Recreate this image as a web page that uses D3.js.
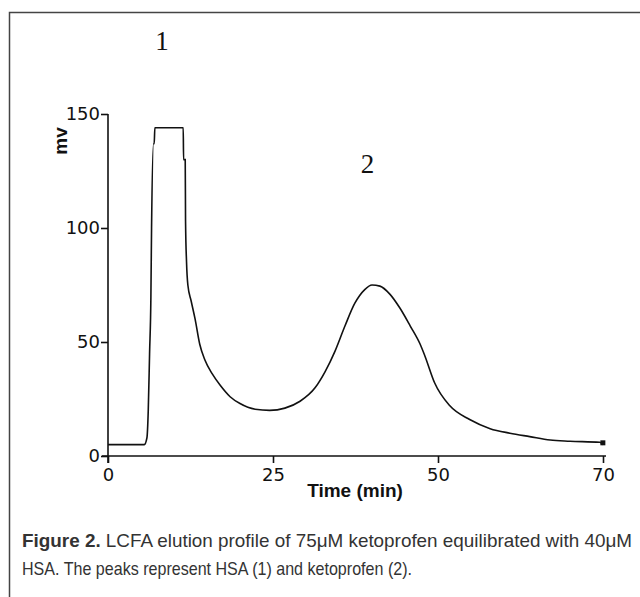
<!DOCTYPE html>
<html>
<head>
<meta charset="utf-8">
<script src="https://cdn.jsdelivr.net/npm/d3@7"></script>
<style>
  body { margin: 0; background: #fff; }
</style>
</head>
<body>
<div id="chart"></div>
<script>
// Elution profile: time (min) and signal (mV)
var times = [0, 2, 4, 5.5, 5.9, 6.1, 6.3, 6.5, 6.6, 6.9, 7.0, 7.1, 11.4, 11.45, 11.7, 11.75, 11.9, 12.1, 12.6,
             13.2, 13.9, 14.7, 15.8, 17.0, 18.5, 20.0, 22.3, 24.5, 26.8, 29.1, 31.4, 32.9, 34.4, 35.9, 37.4,
             38.9, 40.0, 41.2, 42.7, 44.2, 45.8, 47.3, 48.0, 49.5, 51.8, 54.8, 57.9, 60.9, 63.9, 67.0, 70.0, 74.5, 75.0];
var signal = [5, 5, 5, 5, 8, 20, 45, 70, 100, 137, 137, 144, 144, 130, 130, 103, 85, 75, 68,
              60, 49, 42, 36, 31, 26, 23, 20.5, 20, 21, 24, 30, 37, 46, 57, 67,
              73, 75, 74.5, 71, 65, 57, 49, 44, 32, 22, 16, 12, 10, 8.5, 7, 6.5, 6, 5];

var xTicks = [0, 25, 50, 75];
var xTickLabels = ["0", "25", "50", "70"];
var yTicks = [0, 50, 100, 150];

var peakLabels = [
  {text: "1", t: 8.2, v: 178},
  {text: "2", t: 39.3, v: 124}
];

var data = times.map(function(t, i) { return {t: t, v: signal[i]}; });

var W = 640, H = 597;
var svg = d3.select("#chart").append("svg")
    .attr("width", W)
    .attr("height", H);

// frame (only left and top edges show in the crop)
svg.append("path")
    .attr("d", "M9.5,597 L9.5,12.5 L640,12.5")
    .attr("fill", "none")
    .attr("stroke", "#444")
    .attr("stroke-width", 1.5);

var x = d3.scaleLinear().domain([0, 75]).range([108, 603]);
var y = d3.scaleLinear().domain([0, 150]).range([456, 114]);

// x axis
var xAxis = d3.axisBottom(x)
    .tickValues(xTicks)
    .tickSize(7)
    .tickFormat(function(d, i) { return xTickLabels[i]; });

var gx = svg.append("g")
    .attr("transform", "translate(0," + y(0) + ")")
    .call(xAxis);
gx.select(".domain").attr("d", "M" + (x(0) - 6) + ",0H" + (x(75) + 3));

// y axis
var yAxis = d3.axisLeft(y).tickValues(yTicks).tickSize(7);
var gy = svg.append("g")
    .attr("transform", "translate(" + x(0) + ",0)")
    .call(yAxis);
gy.select(".domain").attr("d", "M0," + (y(0) + 7) + "V" + y(150));

svg.selectAll(".domain, .tick line")
    .attr("stroke", "#111")
    .attr("stroke-width", 1.6);

svg.selectAll(".tick text")
    .attr("font-family", "DejaVu Sans, sans-serif")
    .attr("font-size", 18)
    .attr("fill", "#111");
gx.selectAll(".tick text").attr("dy", "0.85em");
gy.selectAll(".tick text").attr("x", -8);

// the trace
var line = d3.line()
    .x(function(d) { return x(d.t); })
    .y(function(d) { return y(d.v); })
    .curve(d3.curveMonotoneX);

svg.append("path")
    .datum(data)
    .attr("fill", "none")
    .attr("stroke", "#111")
    .attr("stroke-width", 1.6)
    .attr("d", line);

// small end mark of the trace
svg.append("rect")
    .attr("x", x(74.6))
    .attr("y", y(6) - 2)
    .attr("width", 5)
    .attr("height", 5)
    .attr("fill", "#111");

// peak numbers
svg.selectAll(".peak")
    .data(peakLabels)
    .enter().append("text")
    .attr("class", "peak")
    .attr("x", function(d) { return x(d.t); })
    .attr("y", function(d) { return y(d.v); })
    .attr("text-anchor", "middle")
    .attr("font-family", "Liberation Serif, serif")
    .attr("font-size", 27)
    .attr("fill", "#111")
    .text(function(d) { return d.text; });

// axis titles
svg.append("text")
    .attr("transform", "translate(67,141) rotate(-90)")
    .attr("text-anchor", "middle")
    .attr("font-family", "Liberation Sans, Arial, sans-serif")
    .attr("font-weight", "bold")
    .attr("font-size", 19)
    .attr("fill", "#111")
    .text("mv");

svg.append("text")
    .attr("x", 355)
    .attr("y", 497)
    .attr("text-anchor", "middle")
    .attr("font-family", "Liberation Sans, Arial, sans-serif")
    .attr("font-weight", "bold")
    .attr("font-size", 19)
    .attr("fill", "#111")
    .text("Time (min)");

// caption (condensed face in the print, squeezed to fit)
var cap = svg.append("g")
    .attr("font-family", "Liberation Sans, sans-serif")
    .attr("font-size", 19)
    .attr("fill", "#333");

var l1 = cap.append("text").attr("x", 22).attr("y", 547)
    .attr("textLength", 610)
    .attr("lengthAdjust", "spacingAndGlyphs");
l1.append("tspan").attr("font-weight", "bold").text("Figure 2.");
l1.append("tspan").text(" LCFA elution profile of 75μM ketoprofen equilibrated with 40μM");

cap.append("text").attr("x", 22).attr("y", 575)
    .attr("textLength", 390)
    .attr("lengthAdjust", "spacingAndGlyphs")
    .text("HSA. The peaks represent HSA (1) and ketoprofen (2).");
</script>
</body>
</html>
